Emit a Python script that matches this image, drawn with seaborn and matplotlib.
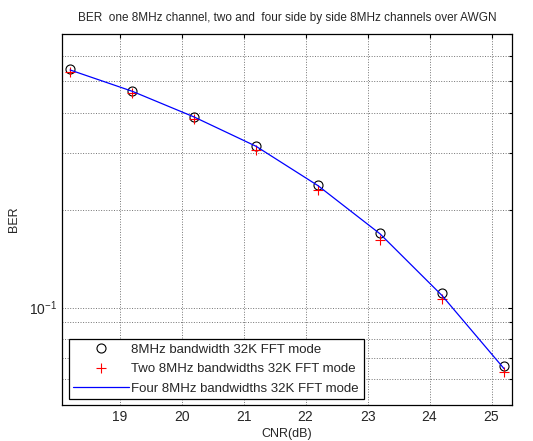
import matplotlib
matplotlib.use('Agg')
import matplotlib.pyplot as plt
import seaborn as sns
import numpy as np
from matplotlib.ticker import LogLocator, NullFormatter, FixedLocator

# data
cnr = [18.2, 19.2, 20.2, 21.2, 22.2, 23.2, 24.2, 25.2]
ber_one = [0.545, 0.468, 0.389, 0.316, 0.239, 0.170, 0.1108, 0.0658]
ber_two = [0.533, 0.459, 0.382, 0.307, 0.231, 0.1615, 0.1059, 0.0633]
ber_four = [0.542, 0.466, 0.388, 0.315, 0.238, 0.169, 0.109, 0.0648]

labels = ['8MHz bandwidth 32K FFT mode',
          'Two 8MHz bandwidths 32K FFT mode',
          'Four 8MHz bandwidths 32K FFT mode']

sns.set_style('white')
plt.rcParams['font.family'] = ['Liberation Sans', 'DejaVu Sans']

fig = plt.figure(figsize=(5.33, 4.41), dpi=100)
ax = fig.add_axes([62/533, 1-405/441, 450/533, 371/441])

sns.lineplot(x=cnr, y=ber_one, ax=ax, marker='o', linestyle='', markersize=6.5,
             markerfacecolor='none', markeredgecolor='black', markeredgewidth=0.8,
             color='black', label=labels[0])
sns.lineplot(x=cnr, y=ber_two, ax=ax, marker='+', linestyle='', markersize=6.5,
             markeredgecolor='red', markeredgewidth=0.8, color='red', label=labels[1])
sns.lineplot(x=cnr, y=ber_four, ax=ax, color='blue', linewidth=0.9, label=labels[2])

ax.set_yscale('log')
ax.set_xlim(18.07, 25.33)
ax.set_ylim(0.05, 0.7)
ax.xaxis.set_major_locator(FixedLocator([19, 20, 21, 22, 23, 24, 25]))
ax.yaxis.set_major_locator(LogLocator(base=10))
ax.yaxis.set_minor_locator(LogLocator(base=10, subs=np.arange(2, 10)))
ax.yaxis.set_minor_formatter(NullFormatter())

ax.grid(True, which='major', color='0.45', linestyle=':', linewidth=0.7)
ax.grid(True, which='minor', axis='y', color='0.45', linestyle=':', linewidth=0.7)
ax.tick_params(which='both', direction='in', top=True, right=True, labelsize=10,
               length=3, width=0.8, color='black')
ax.tick_params(which='minor', length=2)
for s in ax.spines.values():
    s.set_edgecolor('black')
    s.set_linewidth(0.9)

ax.set_title('BER  one 8MHz channel, two and  four side by side 8MHz channels over AWGN',
             fontsize=8.5, pad=9)
ax.set_xlabel('CNR(dB)', fontsize=9, labelpad=3)
ax.set_ylabel('BER', fontsize=9)
ax.yaxis.set_label_coords(-0.093, 0.5)

leg = ax.legend(loc='lower left', bbox_to_anchor=(0.015, 0.015), borderaxespad=0,
                fontsize=9.5, fancybox=False, edgecolor='black', framealpha=1,
                handlelength=4.2, handletextpad=0.2, labelspacing=0.55, borderpad=0.35)
leg.get_frame().set_linewidth(0.9)

fig.savefig('out.png', dpi=100)
